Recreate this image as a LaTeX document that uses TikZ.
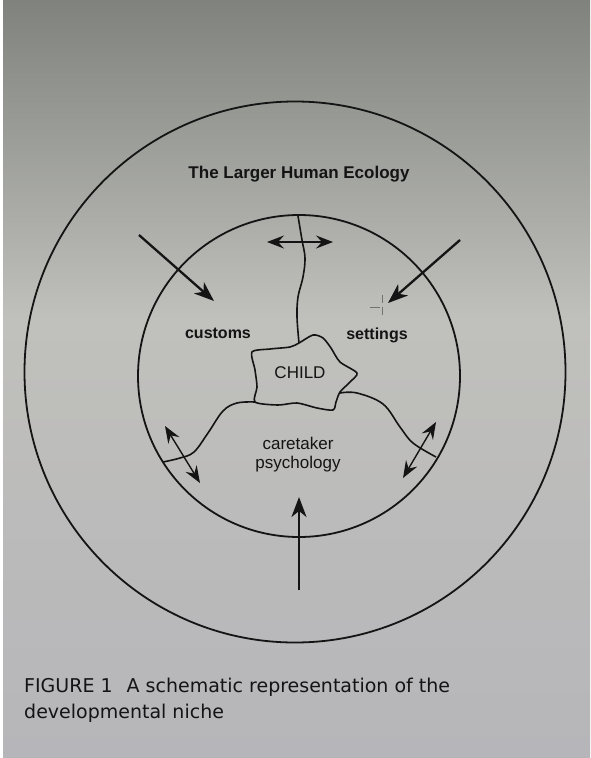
\documentclass[tikz,border=0pt]{standalone}
\usepackage{fontspec}
\setmainfont{Liberation Sans}
\newfontfamily\capfont{DejaVu Sans}
\usetikzlibrary{arrows.meta}
\definecolor{inkc}{HTML}{141414}
\definecolor{bgtop}{HTML}{80837D}
\definecolor{bgmid}{HTML}{C0C0BC}
\definecolor{bgbot}{HTML}{B6B5B9}
\begin{document}
\begin{tikzpicture}[x=1pt,y=-1pt,
  ring/.style={circle, draw=inkc, line width=1.8pt, inner sep=0pt},
  border/.style={draw=inkc, line width=1.6pt, line join=round},
  inarrow/.style={draw=inkc, line width=2.3pt, -{Stealth[length=20pt,width=15pt,inset=6pt]}},
  twoway/.style={draw=inkc, line width=1.4pt, {Stealth[length=17pt,width=13pt,inset=6pt]}-{Stealth[length=17pt,width=13pt,inset=6pt]}},
  boldlbl/.style={text=inkc, font=\bfseries\fontsize{16}{18}\selectfont, inner sep=0pt},
  plainlbl/.style={text=inkc, font=\fontsize{17}{20}\selectfont, inner sep=0pt},
  caplbl/.style={text=inkc, font=\capfont\fontsize{19}{26}\selectfont, inner sep=0pt, anchor=base west}
]
\useasboundingbox (0,0) rectangle (590,758);
\shade[top color=bgtop, bottom color=bgmid] (0,0) rectangle (590,320);
\shade[top color=bgmid, bottom color=bgbot] (0,319.5) rectangle (590,758);
\fill[white] (0,0) rectangle (3,758);

% ellipses
\node[ring, minimum size=541pt] (outer) at (295,372) {};
\node[ring, minimum size=322pt] (inner) at (299,376) {};

% child blob
\draw[border] plot[smooth cycle, tension=0.45] coordinates {
  (252,352) (270,349) (290,347) (299,343) (313,335) (323,338) (331,348) (340,362)
  (357,373) (350,382) (340,392) (336,402) (333,410) (317,408) (297,403) (278,405)
  (255,402) (257,387) (255,370)};
\node[plainlbl] (child) at (300,373) {CHILD};

% boundaries
\coordinate (vtop) at (298,216);
\coordinate (vbot) at (299,343);
\draw[border] plot[smooth, tension=0.6] coordinates {
  (vtop) (302,240) (305,258) (303,277) (298,297) (297,317) (vbot)};
\coordinate (lstart) at (163,462);
\coordinate (lend) at (255,402);
\draw[border] plot[smooth, tension=0.6] coordinates {
  (lstart) (180,458) (194,452) (208,433) (223,411) (237,403) (lend)};
\coordinate (rstart) at (340,393);
\coordinate (rend) at (436,457);
\draw[border] plot[smooth, tension=0.6] coordinates {
  (rstart) (357,393) (383,404) (400,427) (413,443) (rend)};

% labels
\node[text=inkc, font=\bfseries\fontsize{17}{20}\selectfont, inner sep=0pt] (eco) at (299,174) {The Larger Human Ecology};
\node[boldlbl] (customs) at (218,333) {customs};
\node[boldlbl] (settings) at (377,335) {settings};
\node[plainlbl] (care) at (298,443) {caretaker};
\node[plainlbl] (psy) at (298,464) {psychology};

% arrows in
\coordinate (a1s) at (139,235); \coordinate (a1e) at (214,301);
\coordinate (a2s) at (460,240); \coordinate (a2e) at (388,303);
\coordinate (a3s) at (299,590); \coordinate (a3e) at (299,497);
\draw[inarrow] (a1s) -- (a1e);
\draw[inarrow] (a2s) -- (a2e);
\draw[inarrow] (a3s) -- (a3e);

% two-way arrows
\coordinate (d1s) at (267,242); \coordinate (d1e) at (333,242);
\coordinate (d2s) at (165,426); \coordinate (d2e) at (200,483);
\coordinate (d3s) at (436,422); \coordinate (d3e) at (403,478);
\draw[twoway] (d1s) -- (d1e);
\draw[twoway] (d2s) -- (d2e);
\draw[twoway] (d3s) -- (d3e);

% small cross mark
\coordinate (m1) at (370,307); \coordinate (m2) at (380,307);
\coordinate (m3) at (382,295); \coordinate (m4) at (382,317);
\draw[inkc!60, line width=0.8pt] (m1) -- (m2);
\draw[inkc!60, line width=0.8pt, dash pattern=on 8pt off 4pt] (m3) -- (m4);

% caption
\node[caplbl] (cap1) at (24,692) {FIGURE 1\hspace{14pt}A schematic representation of the};
\node[caplbl] (cap2) at (24,718) {developmental niche};
\end{tikzpicture}
\end{document}
